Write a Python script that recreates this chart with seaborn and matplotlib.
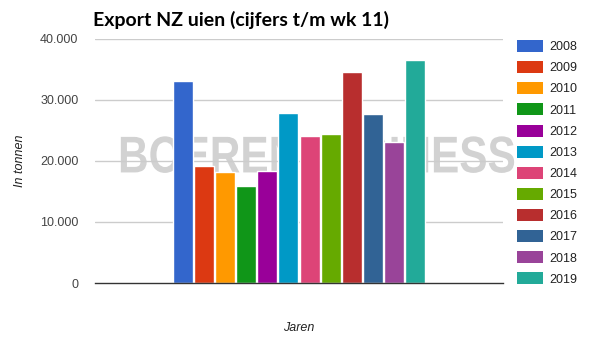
import matplotlib
matplotlib.use("Agg")
import matplotlib.pyplot as plt
import seaborn as sns
import pandas as pd
from matplotlib.patches import Patch
from matplotlib.patheffects import AbstractPathEffect
from matplotlib.transforms import Affine2D

years = ["2008", "2009", "2010", "2011", "2012", "2013", "2014", "2015", "2016", "2017", "2018", "2019"]
values = [33100, 19200, 18200, 15900, 18400, 27900, 24100, 24400, 34600, 27700, 23100, 36600]
colors = ["#3366cc", "#dc3912", "#ff9900", "#109618", "#990099", "#0099c6",
          "#dd4477", "#66aa00", "#b82e2e", "#316395", "#994499", "#22aa99"]
yticks = [0, 10000, 20000, 30000, 40000]
ytick_labels = ["0", "10.000", "20.000", "30.000", "40.000"]

df = pd.DataFrame({"cat": [""] * len(years), "jaar": years, "tonnen": values})

sns.set_theme(style="white")
plt.rcParams["font.family"] = ["Liberation Sans", "DejaVu Sans"]

W, H = 596, 342
fig = plt.figure(figsize=(W / 100, H / 100), dpi=100)
ax = fig.add_axes([95 / W, 1 - 283 / H, 408 / W, 244 / H])

sns.barplot(data=df, x="cat", y="tonnen", hue="jaar", palette=colors,
            width=0.62, gap=0.05, ax=ax, legend=False, saturation=1, zorder=3)

ax.set_ylim(0, 40000)
ax.set_xlim(-0.5, 0.5)
ax.set_yticks(yticks)
ax.set_yticklabels(ytick_labels, color="#444444", fontsize=9)
ax.set_xticks([])
ax.tick_params(axis="y", length=0, pad=12)
ax.set_axisbelow(True)
for y in yticks[1:]:
    ax.axhline(y, color="#cccccc", lw=1, zorder=2)
for s in ["top", "right", "left"]:
    ax.spines[s].set_visible(False)
ax.spines["bottom"].set_color("#333333")
ax.spines["bottom"].set_linewidth(1)
ax.spines["bottom"].set_zorder(4)

ax.set_xlabel("Jaren", fontsize=9, style="italic", color="#222222", labelpad=28)
ax.set_ylabel("In tonnen", fontsize=9, style="italic", color="#222222", labelpad=10)


class VStretch(AbstractPathEffect):
    """Stretch glyphs vertically about a fixed display-space y."""
    def __init__(self, cy, sy):
        super().__init__()
        self.cy, self.sy = cy, sy

    def draw_path(self, renderer, gc, tpath, affine, rgbFace=None):
        t = affine + Affine2D().translate(0, -self.cy).scale(1, self.sy).translate(0, self.cy)
        renderer.draw_path(gc, tpath, t, rgbFace)


# watermark (behind bars and gridlines)
wm_cy = H - 159
ax.text(317 / W, wm_cy / H, "BOERENBUSINESS", fontsize=30.5, fontweight="bold",
        color="#d2d2d2", ha="center", va="center", zorder=1, clip_on=False,
        transform=fig.transFigure, family=["Liberation Sans", "DejaVu Sans"],
        path_effects=[VStretch(wm_cy, 1.22)])

fig.text(93 / W, 1 - 20 / H, "Export NZ uien (cijfers t/m wk 11)", fontsize=14,
         fontweight="bold", color="#000000", ha="left", va="center",
         family=["Lato", "DejaVu Sans"])

handles = [Patch(facecolor=c, edgecolor="none") for c in colors]
fig.legend(handles, years, loc="upper left", bbox_to_anchor=(517 / W, 1 - 40 / H),
           frameon=False, fontsize=9, handlelength=2.1, handleheight=1.1,
           labelspacing=0.63, borderpad=0, borderaxespad=0, handletextpad=0.45,
           labelcolor="#222222")

fig.savefig("out.png", dpi=100)
